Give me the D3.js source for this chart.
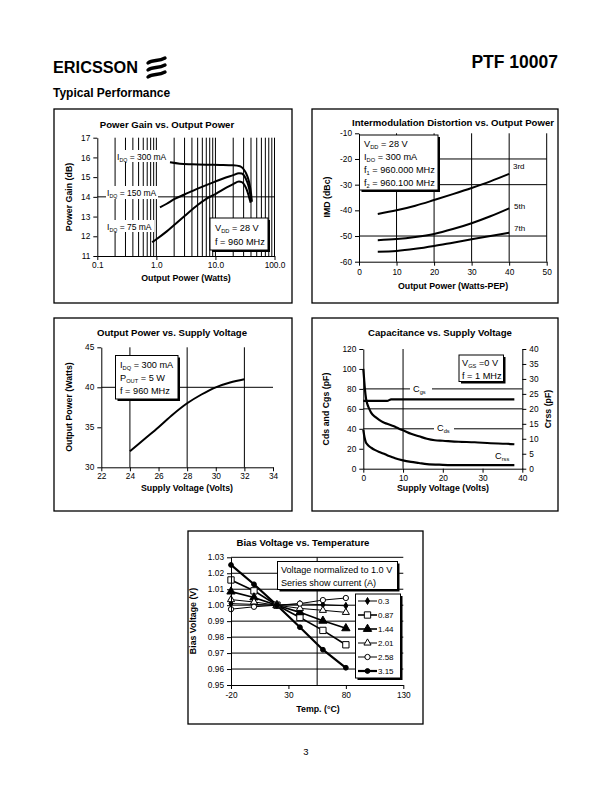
<!DOCTYPE html>
<html><head><meta charset="utf-8">
<script src="https://cdn.jsdelivr.net/npm/d3@7"></script>
<style>
body{margin:0;background:#fff}
svg text{font-family:"Liberation Sans",Arial,Helvetica,sans-serif;fill:#000}
</style></head><body>
<svg id="pg" width="612" height="792"></svg>
<script>
// ---------- DATA ----------
// Chart 1: Power Gain vs. Output Power
const gainTicksX = [0.1, 1, 10, 100];
const gainTicksY = [11, 12, 13, 14, 15, 16, 17];
const p300 = [1.7, 2.5, 4, 7, 12, 20, 26, 30, 33, 36, 38, 40, 41.4];
const g300 = [15.75, 15.68, 15.65, 15.63, 15.62, 15.6, 15.55, 15.4, 15.2, 14.9, 14.6, 14.2, 13.75];
const p150 = [1.15, 1.5, 2, 3, 5, 10, 15, 20, 25, 28, 31, 34, 37, 39, 40.5];
const g150 = [13.47, 13.65, 13.88, 14.12, 14.42, 14.78, 14.98, 15.1, 15.2, 15.18, 15.05, 14.8, 14.45, 14.1, 13.8];
const p75 = [0.85, 1, 1.5, 2, 3, 5, 7, 10, 15, 20, 25, 28, 31, 34, 37, 39.5];
const g75 = [11.7, 11.85, 12.25, 12.57, 13.03, 13.59, 13.9, 14.14, 14.45, 14.65, 14.78, 14.75, 14.6, 14.35, 14.0, 13.7];

// Chart 2: Intermodulation Distortion vs. Output Power
const imdTicksX = [0, 10, 20, 30, 40, 50];
const imdTicksY = [-60, -50, -40, -30, -20, -10];
const imdPower = [5, 10, 15, 20, 25, 30, 35, 40];
const imd3 = [-41.4, -40, -38.2, -36, -33.7, -31.3, -28.7, -25.8];
const imd5 = [-51.6, -51.2, -50.4, -49.2, -47.3, -45, -42.3, -39.2];
const imd7 = [-56.1, -55.8, -55, -53.9, -52.6, -51.3, -50, -48.7];

// Chart 3: Output Power vs. Supply Voltage
const opTicksX = [22, 24, 26, 28, 30, 32, 34];
const opTicksY = [30, 35, 40, 45];
const opVolt = [24, 25, 26, 27, 28, 29, 30, 31, 32];
const opPower = [32, 33.5, 35, 36.6, 38, 39.1, 40, 40.6, 41];

// Chart 4: Capacitance vs. Supply Voltage
const capTicksX = [0, 10, 20, 30, 40];
const capTicksL = [0, 20, 40, 60, 80, 100, 120];
const capTicksR = [0, 5, 10, 15, 20, 25, 30, 35, 40];
const cgsV = [0, 6, 7, 38];
const cgs = [68, 68, 69.5, 69.5];
const cdsV = [0, 0.2, 0.4, 0.7, 1, 1.5, 2, 3, 4, 5, 6, 7, 8, 9, 10, 12, 14, 16, 18, 20, 24, 28, 32, 36, 38];
const cds = [100, 90, 80, 70, 65, 60, 56, 52, 49, 46.5, 45, 43.5, 42, 40, 38.5, 35, 32.5, 30, 28.5, 28, 27, 26.5, 25.5, 25, 24.5];
const crssV = [0, 0.3, 0.6, 1, 2, 3, 4, 5, 6, 7, 8, 10, 12, 14, 16, 20, 24, 38];
const crss = [13, 10.5, 9, 8.1, 7, 6.2, 5.6, 5.1, 4.5, 4, 3.5, 2.8, 2.3, 1.9, 1.5, 1.3, 1.2, 1.2];

// Chart 5: Bias Voltage vs. Temperature
const biasTicksX = [-20, 30, 80, 130];
const biasTicksY = [0.95, 0.96, 0.97, 0.98, 0.99, 1.00, 1.01, 1.02, 1.03];
const temps = [-20, 0, 20, 40, 60, 80];
const biasNames = ["0.3", "0.87", "1.44", "2.01", "2.58", "3.15"];
const b03 = [1.001, 1.0005, 1.0, 1.0008, 1.0003, 0.9996];
const b087 = [1.0158, 1.009, 1.0, 0.9923, 0.9842, 0.9752];
const b144 = [1.0085, 1.0048, 1.0, 0.9955, 0.9902, 0.9855];
const b201 = [1.0035, 1.002, 1.0, 0.998, 0.9968, 0.9955];
const b258 = [0.9975, 0.999, 1.0, 1.001, 1.0032, 1.0045];
const b315 = [1.0252, 1.0131, 1.0, 0.9862, 0.9721, 0.9608];

// ---------- HELPERS ----------
const svg = d3.select("#pg");
const zip = (xs, ys) => xs.map((x, i) => [x, ys[i]]);
const plain = d => String(d);

function rich(g, x, y, parts, size, anchor, weight) {
  const t = g.append("text").attr("x", x).attr("y", y).attr("font-size", size);
  if (anchor) t.attr("text-anchor", anchor);
  if (weight) t.attr("font-weight", weight);
  let pend = 0;
  parts.forEach(p => {
    if (typeof p === "string") {
      const s = t.append("tspan").text(p);
      if (pend) { s.attr("dy", pend); pend = 0; }
    } else {
      t.append("tspan").attr("font-size", size * 0.62).attr("dy", size * 0.2).text(p.sub);
      pend = -size * 0.2;
    }
  });
  return t;
}
function panel(x0, y0, x1, y1) {
  svg.append("rect").attr("x", x0).attr("y", y0).attr("width", x1 - x0).attr("height", y1 - y0)
    .attr("fill", "none").attr("stroke", "#000").attr("stroke-width", 1.3);
}
function noteBox(g, x, y, w, h) {
  g.append("rect").attr("x", x + 2).attr("y", y + 2).attr("width", w).attr("height", h).attr("fill", "#000");
  g.append("rect").attr("x", x).attr("y", y).attr("width", w).attr("height", h).attr("fill", "#fff").attr("stroke", "#000").attr("stroke-width", 1);
}
function styleAxis(a, fs) {
  a.selectAll("path.domain").attr("stroke", "#000").attr("stroke-width", 1);
  a.selectAll(".tick line").attr("stroke", "#000");
  a.selectAll(".tick text").attr("font-size", fs || 8.3).attr("font-family", '"Liberation Sans",Arial,sans-serif').attr("fill", "#000");
}
function title(x, y, s) {
  svg.append("text").attr("x", x).attr("y", y).attr("text-anchor", "middle").attr("font-size", 9.6).attr("font-weight", "bold").text(s);
}
function axTitle(x, y, s, rot) {
  const t = svg.append("text").attr("text-anchor", "middle").attr("font-size", 8.8).attr("font-weight", "bold").text(s);
  if (rot) t.attr("transform", `translate(${x},${y}) rotate(${rot})`); else t.attr("x", x).attr("y", y);
}
function hGrid(g, x, y, vals) {
  g.selectAll(null).data(vals).join("line").attr("x1", x.range()[0]).attr("x2", x.range()[1])
    .attr("y1", d => y(d)).attr("y2", d => y(d)).attr("stroke", "#000").attr("stroke-width", 1);
}
function vGrid(g, x, y, vals) {
  g.selectAll(null).data(vals).join("line").attr("y1", y.range()[0]).attr("y2", y.range()[1])
    .attr("x1", d => x(d)).attr("x2", d => x(d)).attr("stroke", "#000").attr("stroke-width", 1);
}
function whiteLabel(g, x, y, w, h) {
  g.append("rect").attr("x", x).attr("y", y).attr("width", w).attr("height", h).attr("fill", "#fff");
}

// ---------- HEADER ----------
svg.append("text").attr("x", 53).attr("y", 73).attr("font-size", 16).attr("font-weight", "bold")
  .attr("textLength", 85).attr("lengthAdjust", "spacingAndGlyphs").text("ERICSSON");
[58, 65, 72].forEach(yy => {
  svg.append("path").attr("d", `M148,${yy + 5} C153,${yy + 1} 158,${yy + 4} 165,${yy}`)
    .attr("fill", "none").attr("stroke", "#000").attr("stroke-width", 3.4).attr("stroke-linecap", "round");
});
svg.append("text").attr("x", 558).attr("y", 68).attr("text-anchor", "end").attr("font-size", 17.5).attr("font-weight", "bold").text("PTF 10007");
svg.append("text").attr("x", 53).attr("y", 97).attr("font-size", 12).attr("font-weight", "bold").text("Typical Performance");

// ---------- CHART 1 ----------
panel(54, 109, 292, 303);
{
  const g = svg.append("g");
  const x = d3.scaleLog().domain([0.1, 100]).range([97.3, 274.5]);
  const y = d3.scaleLinear().domain([11, 17]).range([256, 137.7]);
  const minors = [];
  [0.1, 1, 10].forEach(dec => { for (let k = 2; k <= 10; k++) minors.push(+(dec * k).toPrecision(3)); });
  vGrid(g, x, y, minors);
  hGrid(g, x, y, [14]);
  const line = d3.line().x(d => x(d[0])).y(d => y(d[1])).curve(d3.curveMonotoneX);
  [zip(p300, g300), zip(p150, g150), zip(p75, g75)].forEach(s =>
    g.append("path").attr("d", line(s)).attr("fill", "none").attr("stroke", "#000").attr("stroke-width", 2));
  const ax = g.append("g").attr("transform", `translate(0,${y.range()[0]})`)
    .call(d3.axisBottom(x).tickValues(gainTicksX).tickFormat(d => d.toFixed(1)).tickSize(4).tickPadding(2).tickSizeOuter(0));
  styleAxis(ax);
  const ay = g.append("g").attr("transform", `translate(${x.range()[0]},0)`)
    .call(d3.axisLeft(y).tickValues(gainTicksY).tickFormat(plain).tickSize(4).tickSizeOuter(0));
  styleAxis(ay);
  whiteLabel(g, 116, 150, 52, 12);
  rich(g, 117, 160, ["I", { sub: "DQ" }, " = 300 mA"], 8.5);
  whiteLabel(g, 106, 186, 52, 13);
  rich(g, 107, 196, ["I", { sub: "DQ" }, " = 150 mA"], 8.5);
  whiteLabel(g, 106, 220, 48, 12);
  rich(g, 107, 230, ["I", { sub: "DQ" }, " = 75 mA"], 8.5);
  noteBox(g, 210, 218, 58, 32);
  rich(g, 215, 231, ["V", { sub: "DD" }, " = 28 V"], 9.2);
  rich(g, 215, 245, ["f = 960 MHz"], 9.2);
  title(167, 128, "Power Gain vs. Output Power");
  axTitle(72, 197, "Power Gain (dB)", -90);
  axTitle(186, 281, "Output Power (Watts)");
}

// ---------- CHART 2 ----------
panel(312, 109, 558, 303);
{
  const g = svg.append("g");
  const x = d3.scaleLinear().domain([0, 50]).range([359, 546.7]);
  const y = d3.scaleLinear().domain([-60, -10]).range([261.7, 133.3]);
  vGrid(g, x, y, [10, 20, 30, 40, 50]);
  hGrid(g, x, y, [-20, -30, -50]);
  const line = d3.line().x(d => x(d[0])).y(d => y(d[1])).curve(d3.curveMonotoneX);
  [imd3, imd5, imd7].forEach(s =>
    g.append("path").attr("d", line(zip(imdPower, s))).attr("fill", "none").attr("stroke", "#000").attr("stroke-width", 2));
  const ax = g.append("g").attr("transform", `translate(0,${y.range()[0]})`)
    .call(d3.axisBottom(x).tickValues(imdTicksX).tickFormat(plain).tickSize(4).tickSizeOuter(0));
  styleAxis(ax);
  const ay = g.append("g").attr("transform", `translate(${x.range()[0]},0)`)
    .call(d3.axisLeft(y).tickValues(imdTicksY).tickFormat(plain).tickSize(4).tickSizeOuter(0));
  styleAxis(ay);
  noteBox(g, 359.5, 135, 78.5, 55);
  rich(g, 364, 147, ["V", { sub: "DD" }, " = 28 V"], 9.2);
  rich(g, 364, 160, ["I", { sub: "DO" }, " = 300 mA"], 9.2);
  rich(g, 364, 173, ["f", { sub: "1" }, " = 960.000 MHz"], 9.2);
  rich(g, 364, 186, ["f", { sub: "2" }, " = 960.100 MHz"], 9.2);
  rich(g, 513, 169, ["3rd"], 8);
  rich(g, 514, 209, ["5th"], 8);
  rich(g, 514, 231, ["7th"], 8);
  title(453, 126, "Intermodulation Distortion vs. Output Power");
  axTitle(330, 197, "IMD (dBc)", -90);
  axTitle(453, 289, "Output Power (Watts-PEP)");
}

// ---------- CHART 3 ----------
panel(54, 318, 292, 511);
{
  const g = svg.append("g");
  const x = d3.scaleLinear().domain([22, 34]).range([101.3, 273]);
  const y = d3.scaleLinear().domain([30, 45]).range([467.3, 347.3]);
  vGrid(g, x, y, [24, 28, 32]);
  hGrid(g, x, y, [40]);
  const line = d3.line().x(d => x(d[0])).y(d => y(d[1])).curve(d3.curveMonotoneX);
  g.append("path").attr("d", line(zip(opVolt, opPower))).attr("fill", "none").attr("stroke", "#000").attr("stroke-width", 2);
  const ax = g.append("g").attr("transform", `translate(0,${y.range()[0]})`)
    .call(d3.axisBottom(x).tickValues(opTicksX).tickFormat(plain).tickSize(4).tickPadding(2).tickSizeOuter(0));
  styleAxis(ax);
  const ay = g.append("g").attr("transform", `translate(${x.range()[0]},0)`)
    .call(d3.axisLeft(y).tickValues(opTicksY).tickFormat(plain).tickSize(4).tickSizeOuter(0));
  styleAxis(ay);
  noteBox(g, 115.5, 355.5, 62.5, 43.5);
  rich(g, 120, 368, ["I", { sub: "DQ" }, " = 300 mA"], 9.2);
  rich(g, 120, 381, ["P", { sub: "OUT" }, " = 5 W"], 9.2);
  rich(g, 120, 394, ["f = 960 MHz"], 9.2);
  title(172, 336, "Output Power vs. Supply Voltage");
  axTitle(72, 407, "Output Power (Watts)", -90);
  axTitle(187, 491, "Supply Voltage (Volts)");
}

// ---------- CHART 4 ----------
panel(312, 318, 558, 511);
{
  const g = svg.append("g");
  const x = d3.scaleLinear().domain([0, 40]).range([363.3, 522.3]);
  const yL = d3.scaleLinear().domain([0, 120]).range([468.7, 349]);
  const yR = d3.scaleLinear().domain([0, 40]).range([468.7, 349]);
  vGrid(g, x, yL, [10]);
  hGrid(g, x, yL, [40, 60, 80]);
  const lineL = d3.line().x(d => x(d[0])).y(d => yL(d[1])).curve(d3.curveMonotoneX);
  const lineR = d3.line().x(d => x(d[0])).y(d => yR(d[1])).curve(d3.curveMonotoneX);
  g.append("path").attr("d", lineL(zip(cgsV, cgs))).attr("fill", "none").attr("stroke", "#000").attr("stroke-width", 2.2);
  g.append("path").attr("d", lineL(zip(cdsV, cds))).attr("fill", "none").attr("stroke", "#000").attr("stroke-width", 2.2);
  g.append("path").attr("d", lineR(zip(crssV, crss))).attr("fill", "none").attr("stroke", "#000").attr("stroke-width", 2.2);
  const ax = g.append("g").attr("transform", `translate(0,${yL.range()[0]})`)
    .call(d3.axisBottom(x).tickValues(capTicksX).tickFormat(plain).tickSize(4).tickPadding(2).tickSizeOuter(0));
  styleAxis(ax);
  const ayl = g.append("g").attr("transform", `translate(${x.range()[0]},0)`)
    .call(d3.axisLeft(yL).tickValues(capTicksL).tickFormat(plain).tickSize(4).tickSizeOuter(0));
  styleAxis(ayl);
  const ayr = g.append("g").attr("transform", `translate(${x.range()[1]},0)`)
    .call(d3.axisRight(yR).tickValues(capTicksR).tickFormat(plain).tickSize(4).tickSizeOuter(0));
  styleAxis(ayr);
  whiteLabel(g, 410, 383, 22, 12);
  rich(g, 413, 392, ["C", { sub: "gs" }], 9.2);
  whiteLabel(g, 434, 422, 20, 12);
  rich(g, 437, 431, ["C", { sub: "ds" }], 9.2);
  whiteLabel(g, 492, 450, 22, 12);
  rich(g, 495, 459, ["C", { sub: "rss" }], 9.2);
  noteBox(g, 459, 355, 44.5, 26.5);
  rich(g, 462, 366, ["V", { sub: "GS" }, " =0 V"], 9.2);
  rich(g, 462, 378.5, ["f = 1 MHz"], 9.2);
  title(440, 336, "Capacitance vs. Supply Voltage");
  axTitle(329, 409, "Cds and Cgs (pF)", -90);
  axTitle(551, 409, "Crss (pF)", -90);
  axTitle(443, 491, "Supply Voltage (Volts)");
}

// ---------- CHART 5 ----------
panel(188, 531, 423, 724);
{
  const g = svg.append("g");
  const x = d3.scaleLinear().domain([-20, 130]).range([231, 403.3]);
  const y = d3.scaleLinear().domain([0.95, 1.03]).range([685, 557.3]);
  hGrid(g, x, y, biasTicksY.slice(1));
  vGrid(g, x, y, [55]);
  const series = [b03, b087, b144, b201, b258, b315];
  const widths = [1, 1.6, 1.6, 1, 1, 2.2];
  const syms = [
    { t: d3.symbolDiamond, s: 14, f: "#000" },
    { t: d3.symbolSquare, s: 40, f: "#fff" },
    { t: d3.symbolTriangle, s: 30, f: "#000" },
    { t: d3.symbolTriangle, s: 22, f: "#fff" },
    { t: d3.symbolCircle, s: 22, f: "#fff" },
    { t: d3.symbolCircle, s: 18, f: "#000" }
  ];
  const line = d3.line().x(d => x(d[0])).y(d => y(d[1]));
  series.forEach((s, i) => {
    g.append("path").attr("d", line(zip(temps, s))).attr("fill", "none").attr("stroke", "#000").attr("stroke-width", widths[i]);
  });
  series.forEach((s, i) => {
    g.selectAll(null).data(zip(temps, s)).join("path")
      .attr("transform", d => `translate(${x(d[0])},${y(d[1])})`)
      .attr("d", d3.symbol(syms[i].t, syms[i].s)).attr("fill", syms[i].f).attr("stroke", "#000").attr("stroke-width", 1);
  });
  const ax = g.append("g").attr("transform", `translate(0,${y.range()[0]})`)
    .call(d3.axisBottom(x).tickValues(biasTicksX).tickFormat(plain).tickSize(4).tickSizeOuter(0));
  styleAxis(ax);
  const ay = g.append("g").attr("transform", `translate(${x.range()[0]},0)`)
    .call(d3.axisLeft(y).tickValues(biasTicksY).tickFormat(d => d.toFixed(2)).tickSize(4).tickSizeOuter(0));
  styleAxis(ay);
  noteBox(g, 277.5, 561.5, 120, 28);
  rich(g, 281, 573, ["Voltage normalized to 1.0 V"], 9.1);
  rich(g, 281, 586, ["Series show current (A)"], 9.1);
  noteBox(g, 355.5, 594, 45, 84);
  biasNames.forEach((nm, i) => {
    const yy = 601 + i * 14;
    g.append("line").attr("x1", 358).attr("x2", 377).attr("y1", yy).attr("y2", yy).attr("stroke", "#000").attr("stroke-width", widths[i]);
    g.append("path").attr("transform", `translate(367.5,${yy})`).attr("d", d3.symbol(syms[i].t, syms[i].s))
      .attr("fill", syms[i].f).attr("stroke", "#000").attr("stroke-width", 1);
    g.append("text").attr("x", 378).attr("y", yy + 3).attr("font-size", 8).text(nm);
  });
  title(303, 546, "Bias Voltage vs. Temperature");
  axTitle(196, 621, "Bias Voltage (V)", -90);
  axTitle(318, 712, "Temp. (°C)");
}

// page number
svg.append("text").attr("x", 306).attr("y", 755).attr("text-anchor", "middle").attr("font-size", 9.5).text("3");
</script>
</body></html>
